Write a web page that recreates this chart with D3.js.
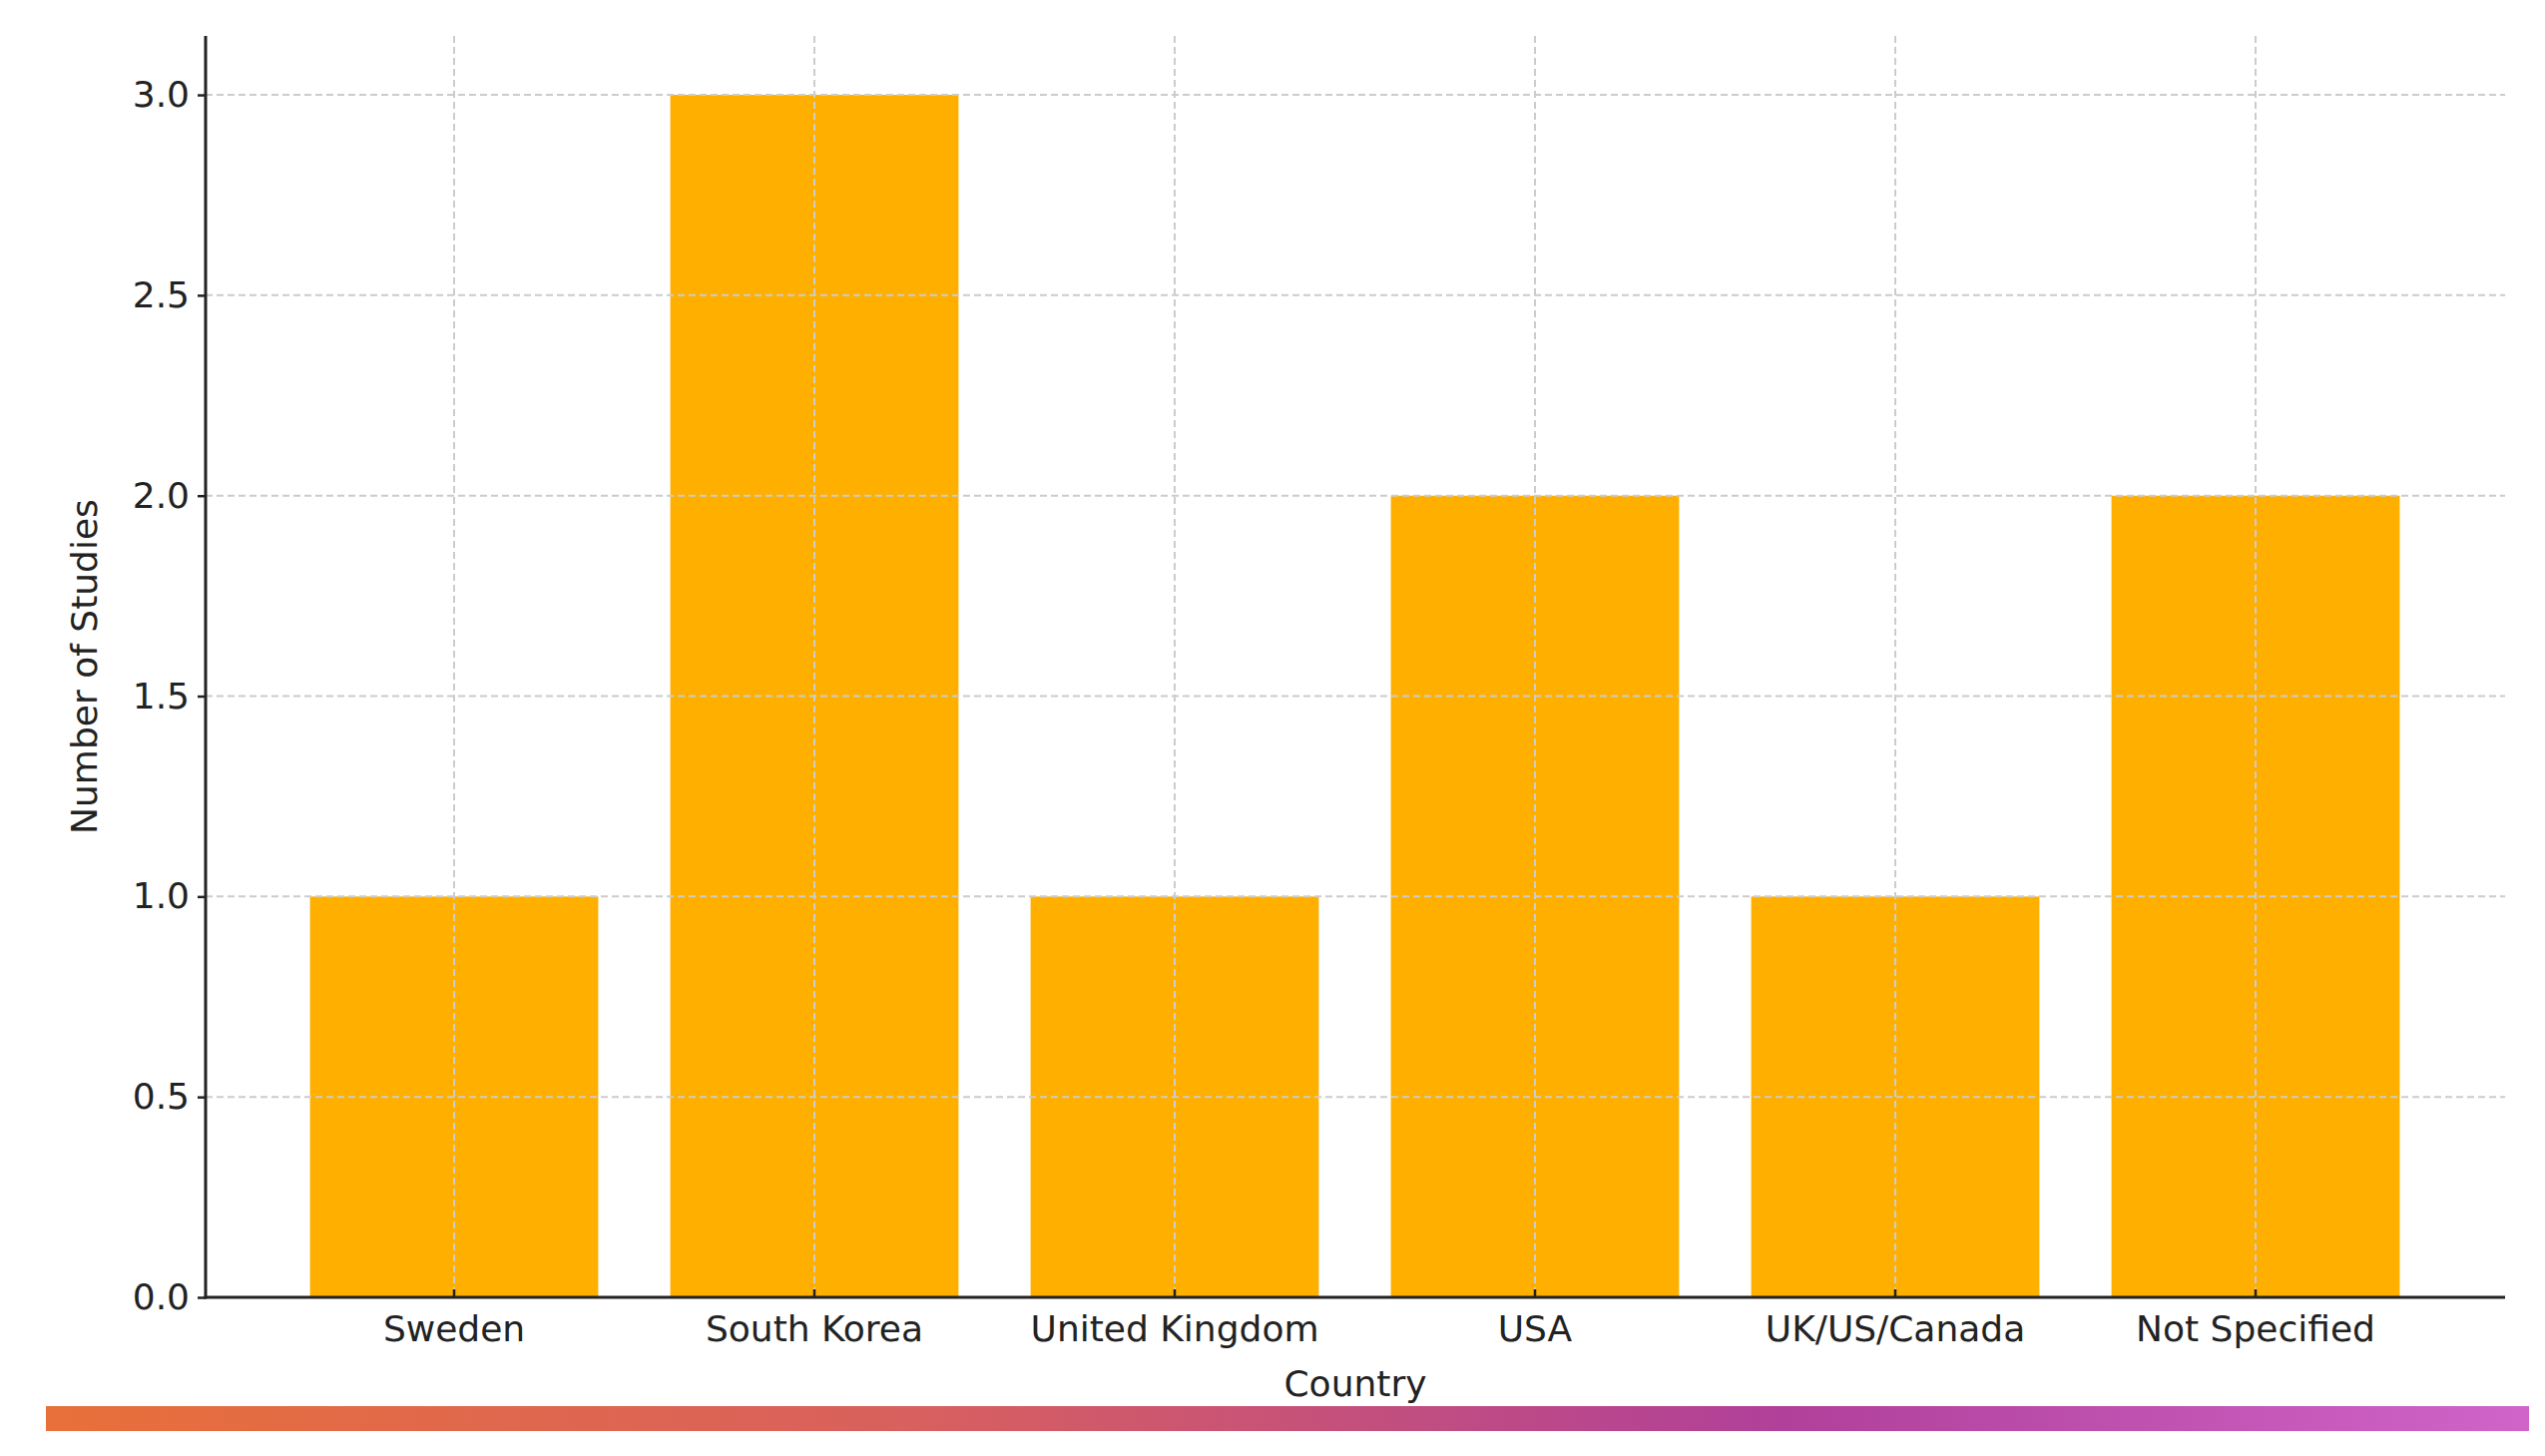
<!DOCTYPE html>
<html><head><meta charset="utf-8">
<script src="https://d3js.org/d3.v7.min.js"></script>
<style>body{margin:0;background:#fff}text{font-family:"DejaVu Sans",sans-serif;fill:#222}</style>
</head><body>
<svg id="c" width="2550" height="1459"></svg>
<script>
const categories = ["Sweden","South Korea","United Kingdom","USA","UK/US/Canada","Not Specified"];
const values = [1,3,1,2,1,2];
const yTicks = [0,0.5,1,1.5,2,2.5,3];

const svg = d3.select("#c");
const axL = 206, axR = 2510, axT = 36, axB = 1300;
const x = d3.scaleBand().domain(categories).range([274.5, 2440.5]).paddingInner(0.2).paddingOuter(0.1);
const y = d3.scaleLinear().domain([0, 3.147]).range([axB, axT]);

// grid
const g = svg.append("g");
g.selectAll("line.h").data(yTicks).join("line")
 .attr("x1", axL).attr("x2", axR).attr("y1", d=>y(d)).attr("y2", d=>y(d))
 .attr("stroke","#ccc").attr("stroke-width",2).attr("stroke-dasharray","7,4");
// bars
svg.selectAll("rect.bar").data(values).join("rect")
 .attr("x",(d,i)=>x(categories[i])).attr("width",x.bandwidth())
 .attr("y",d=>y(d)).attr("height",d=>axB-y(d)).attr("fill","#FFAF00");
g.raise();
svg.append("g").selectAll("line").data(categories).join("line")
 .attr("x1",d=>x(d)+x.bandwidth()/2).attr("x2",d=>x(d)+x.bandwidth()/2)
 .attr("y1",axT).attr("y2",axB).attr("stroke","#ccc").attr("stroke-width",2).attr("stroke-dasharray","7,4");

// axes
const ya = svg.append("g").attr("transform",`translate(${axL},0)`)
 .call(d3.axisLeft(y).tickValues(yTicks).tickFormat(d3.format(".1f")).tickSize(8).tickPadding(8));
ya.select(".domain").remove();
ya.selectAll("text").attr("font-size",36);
ya.selectAll(".tick line").attr("stroke","#222").attr("stroke-width",2.5);
const xa = svg.append("g").attr("transform",`translate(0,${axB})`)
 .call(d3.axisBottom(x).tickSize(8).tickPadding(10));
xa.select(".domain").remove();
xa.selectAll("text").attr("font-size",36);
xa.selectAll(".tick line").attr("stroke","#222").attr("stroke-width",2.5).attr("y2",-8);
svg.append("line").attr("x1",axL).attr("x2",axL).attr("y1",axT).attr("y2",axB+1.5).attr("stroke","#222").attr("stroke-width",3);
svg.append("line").attr("x1",axL-1.5).attr("x2",axR).attr("y1",axB).attr("y2",axB).attr("stroke","#222").attr("stroke-width",3);

svg.append("text").attr("x",(axL+axR)/2).attr("y",1399).attr("text-anchor","middle").attr("font-size",36).text("Country");
svg.append("text").attr("transform","translate(97,668) rotate(-90)").attr("text-anchor","middle").attr("font-size",36).text("Number of Studies");

// gradient strip
const grad = svg.append("defs").append("linearGradient").attr("id","gr");
[["0%","#E8703A"],["35%","#D8605E"],["70%","#B0409A"],["100%","#D064C8"]].forEach(s=>grad.append("stop").attr("offset",s[0]).attr("stop-color",s[1]));
svg.append("rect").attr("x",46).attr("y",1409).attr("width",2488).attr("height",25).attr("fill","url(#gr)");
</script>
</body></html>
